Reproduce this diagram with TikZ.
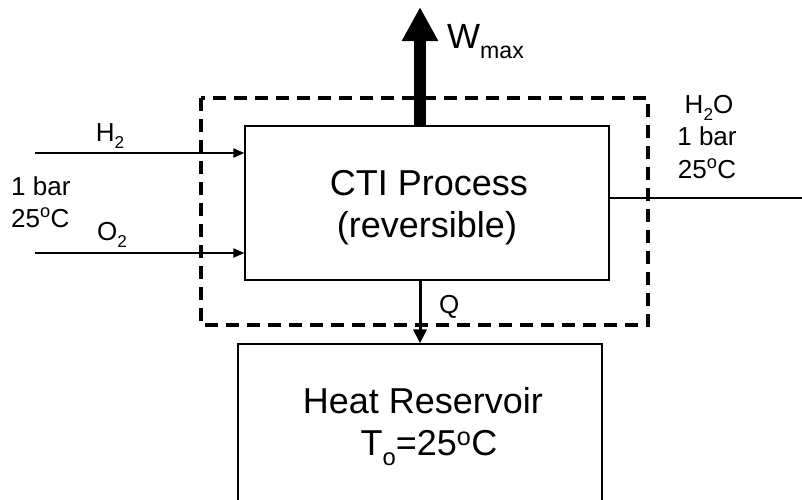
\documentclass[tikz,border=0pt]{standalone}
\usepackage{fontspec}
\setmainfont{Liberation Sans}
\usetikzlibrary{arrows.meta}
\makeatletter
\newcommand\dn[1]{\raisebox{-0.3em}{\fontsize{\strip@pt\dimexpr0.66\dimexpr\f@size pt\relax\relax}{1}\selectfont #1}}
\makeatother
\tikzset{
  box/.style={draw=black, line width=1.2pt, inner sep=0pt},
  big/.style={inner sep=0pt, anchor=base, font=\fontsize{36}{42}\selectfont},
  lbl/.style={inner sep=0pt, anchor=base, font=\fontsize{26}{32}\selectfont},
  inarrow/.style={line width=2pt, -{Triangle[length=11pt,width=9pt]}},
  qarrow/.style={line width=3pt, -{Triangle[length=14pt,width=13pt]}},
  warrow/.style={line width=12pt, -{Triangle[length=34pt,width=34pt]}},
  envelope/.style={draw=black, line width=4pt, dash pattern=on 13pt off 8pt}
}
\begin{document}
\begin{tikzpicture}[x=1pt,y=-1pt]
\useasboundingbox (0,0) rectangle (802,499);
\clip (0,0) rectangle (802,499);
% dashed control volume
\draw[envelope] (201,98) rectangle (648,325);
% process box
\node[box, minimum width=364pt, minimum height=154pt] (proc) at (427,203) {};
\node[big] (proct1) at (429,195) {CTI Process};
\node[big] (proct2) at (427,237) {(reversible)};
% heat reservoir
\node[box, minimum width=364pt, minimum height=168pt] (res) at (420,428) {};
\node[big] (rest1) at (423,413) {Heat Reservoir};
\node[big] (rest2) at (429,455) {T\dn{o}=25\textsuperscript{o}C};
% inputs
\coordinate (h2s) at (35,153);
\coordinate (o2s) at (35,253);
\draw[inarrow] (h2s) -- (h2s -| proc.west);
\draw[inarrow] (o2s) -- (o2s -| proc.west);
\node[lbl] (h2) at (110,141) {H\dn{2}};
\node[lbl] (o2) at (112,240) {O\dn{2}};
\node[lbl, anchor=base west] (cond1) at (11,195) {1 bar};
\node[lbl, anchor=base west] (cond2) at (11,227) {25\textsuperscript{o}C};
% output
\coordinate (h2oe) at (802,198);
\draw[line width=1.5pt] (h2oe -| proc.east) -- (h2oe);
\node[lbl] (h2o) at (709,113) {H\dn{2}O};
\node[lbl] (outp) at (707,145) {1 bar};
\node[lbl] (outt) at (707,178) {25\textsuperscript{o}C};
% heat
\draw[qarrow] (proc.south -| res.north) -- (res.north);
\node[lbl, anchor=base west] (q) at (439,313) {Q};
% work
\coordinate (wtip) at (420,7);
\draw[warrow] (proc.north -| wtip) -- (wtip);
\node[inner sep=0pt, anchor=base west, font=\fontsize{35}{40}\selectfont] (w) at (447,48) {W\dn{max}};
\end{tikzpicture}
\end{document}
